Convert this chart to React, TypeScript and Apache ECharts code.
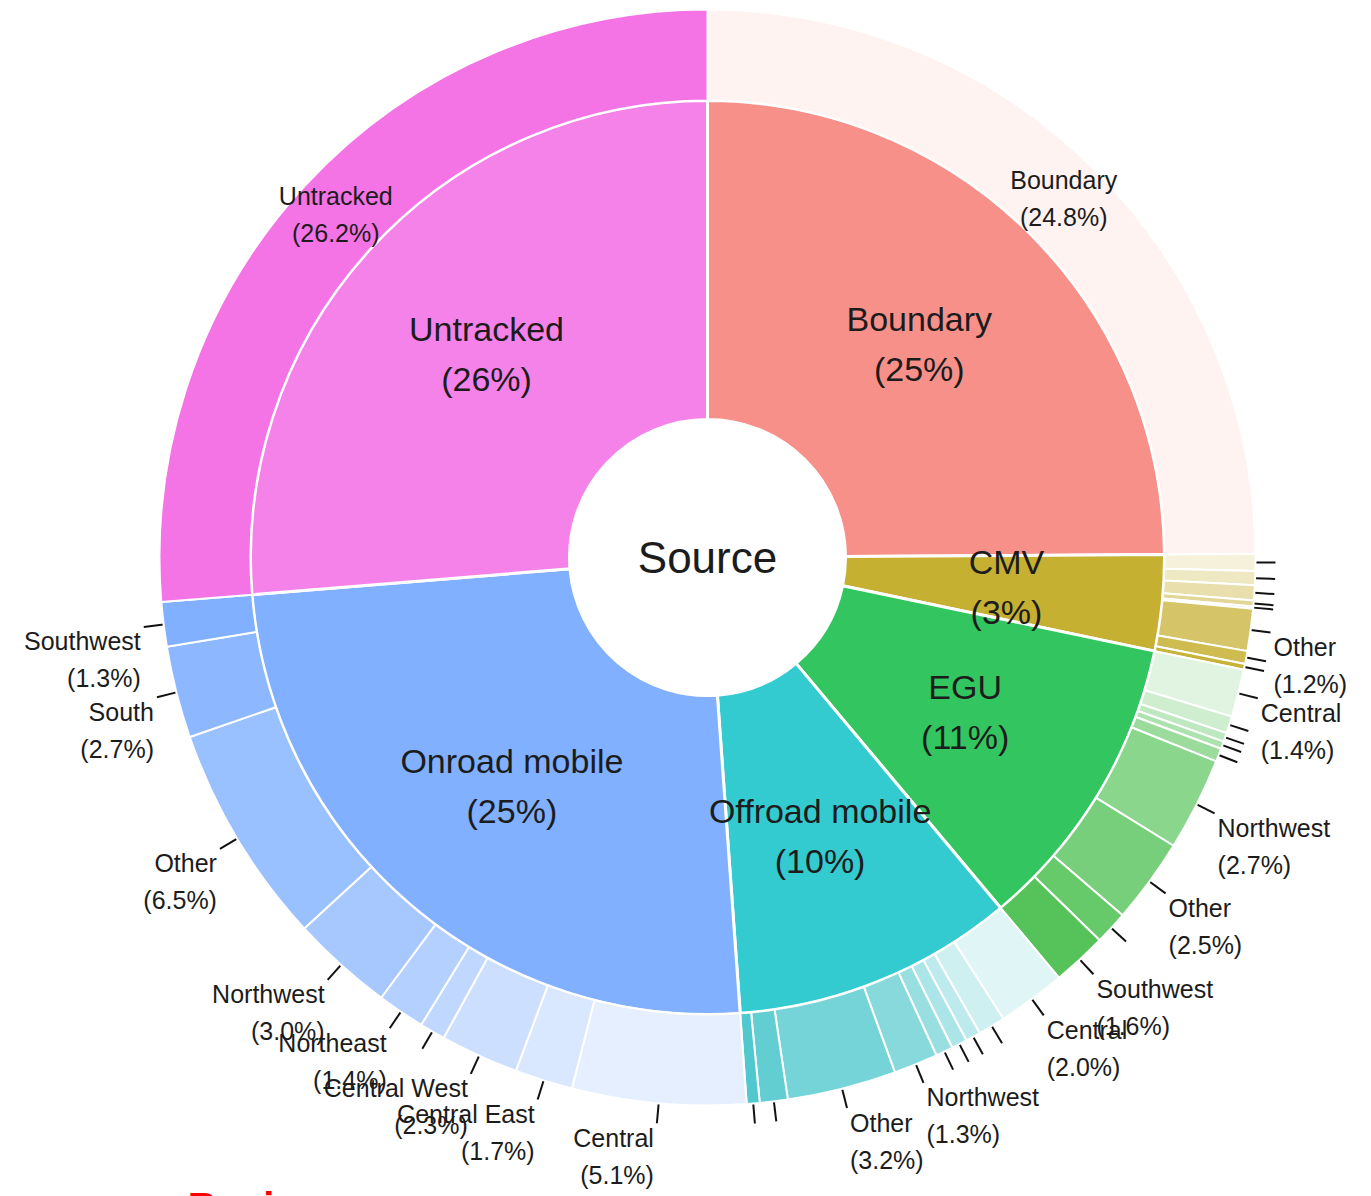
import React, { useEffect, useRef } from 'react';
import * as echarts from 'echarts';

// ---------------- data (percent of total) ----------------
const sources = ['Boundary', 'CMV', 'EGU', 'Offroad mobile', 'Onroad mobile', 'Untracked'];
const regions = ['Central', 'Central East', 'Central West', 'East', 'Northeast', 'Northwest', 'Other', 'South', 'Southwest'];

const boundaryValues = [24.8];
const cmvValues = [0.5, 0.41, 0.44, 0, 0.18, 0.06, 1.24, 0.38, 0.17];
const eguValues = [1.4, 0.5, 0.26, 0.22, 0.39, 2.74, 2.5, 0.98, 1.6];
const offroadValues = [2.0, 0.8, 0.44, 0.46, 0.51, 1.3, 3.2, 0.82, 0.38];
const onroadValues = [5.1, 1.7, 2.3, 0.75, 1.4, 3.0, 6.5, 2.7, 1.3];
const untrackedValues = [26.2];

const centerLabel = 'Source';
const footerText = '➔ Region';

// ---------------- styles ----------------
const FONT = "'Liberation Sans', Arial, Helvetica, sans-serif";
const TEXT = '#1c1c1c';
const CX = 707.5;
const CY = 557.5;
const R_HOLE = 138;
const R_MID = 457;
const R_OUT = 548;

const innerColors: Record<string, string> = {
  Boundary: '#f8908a',
  CMV: '#c6b032',
  EGU: '#33c660',
  'Offroad mobile': '#33cbd0',
  'Onroad mobile': '#80b0ff',
  Untracked: '#f582e8',
};
const singleOuterColors: Record<string, string> = {
  Boundary: '#fff3f1',
  Untracked: '#f473e5',
};
// outer ring: base colour, white-mix for the first child, white-mix for the last child
const outerGradients: Record<string, [string, number, number]> = {
  CMV: ['#c6b032', 0.82, 0.04],
  EGU: ['#4cc050', 0.83, 0.05],
  'Offroad mobile': ['#40c3c8', 0.84, 0.09],
  'Onroad mobile': ['#80b0ff', 0.8, 0.0],
};

function mixWhite(hex: string, f: number): string {
  const n = parseInt(hex.slice(1), 16);
  const r = (n >> 16) & 255, g = (n >> 8) & 255, b = n & 255;
  const m = (c: number) => Math.round(c + (255 - c) * f);
  return `rgb(${m(r)},${m(g)},${m(b)})`;
}

const childValues: Record<string, number[]> = {
  Boundary: boundaryValues,
  CMV: cmvValues,
  EGU: eguValues,
  'Offroad mobile': offroadValues,
  'Onroad mobile': onroadValues,
  Untracked: untrackedValues,
};

function buildData() {
  const inner: any[] = [];
  const outer: any[] = [];
  sources.forEach((src) => {
    const vals = childValues[src];
    const total = vals.reduce((a, b) => a + b, 0);
    inner.push({ name: src, value: total, itemStyle: { color: innerColors[src] } });
    if (vals.length === 1) {
      outer.push({
        name: src,
        value: vals[0],
        single: true,
        itemStyle: { color: singleOuterColors[src] },
        label: { position: 'inside' },
        labelLine: { show: false },
      });
    } else {
      const [base, fFirst, fLast] = outerGradients[src];
      const kids = regions
        .map((reg, i) => ({ reg, v: vals[i] }))
        .filter((k) => k.v > 0);
      const nK = kids.length;
      kids.forEach((k, j) => {
        const f = fFirst - ((fFirst - fLast) * j) / (nK - 1);
        outer.push({
          name: k.reg,
          value: k.v,
          itemStyle: { color: mixWhite(base, f) },
        });
      });
    }
  });
  return { inner, outer };
}

export default function App() {
  const ref = useRef<HTMLDivElement>(null);
  useEffect(() => {
    if (!ref.current) return;
    const chart = echarts.init(ref.current, undefined, { renderer: 'svg' });
    const { inner, outer } = buildData();
    chart.setOption({
      animation: false,
      backgroundColor: '#ffffff',
      series: [
        {
          type: 'pie',
          center: [CX, CY],
          radius: [R_HOLE, R_MID],
          startAngle: 90,
          clockwise: true,
          avoidLabelOverlap: false,
          labelLayout: { hideOverlap: false },
          silent: true,
          itemStyle: { borderColor: '#ffffff', borderWidth: 3 },
          label: {
            show: true,
            position: 'inside',
            fontFamily: FONT,
            fontSize: 34,
            lineHeight: 50,
            color: TEXT,
            formatter: (p: any) => `${p.name}\n(${Math.round(p.value)}%)`,
          },
          labelLine: { show: false },
          data: inner,
        },
        {
          type: 'pie',
          center: [CX, CY],
          radius: [R_MID, R_OUT],
          startAngle: 90,
          clockwise: true,
          avoidLabelOverlap: false,
          labelLayout: { hideOverlap: false },
          silent: true,
          itemStyle: { borderColor: '#ffffff', borderWidth: 2 },
          label: {
            show: true,
            position: 'outside',
            fontFamily: FONT,
            fontSize: 25,
            lineHeight: 37,
            color: TEXT,
            distanceToLabelLine: 3,
            rich: {
              s: { fontFamily: FONT, fontSize: 10, lineHeight: 66 },
              n: { fontFamily: FONT, fontSize: 25, lineHeight: 37, color: TEXT },
            },
            formatter: (p: any) => {
              if (p.data && p.data.single) {
                return `${p.name}\n(${Number(p.value).toFixed(1)}%)`;
              }
              // a blank spacer line on top so that the text hangs below the tick end
              return p.value >= 1.1
                ? `{s| }\n{n|${p.name}}\n{n|(${Number(p.value).toFixed(1)}%)}`
                : '';
            },
          },
          labelLine: {
            show: true,
            length: 20,
            length2: 0,
            lineStyle: { color: '#111111', width: 2 },
          },
          data: outer,
        },
      ],
      graphic: [
        {
          type: 'text',
          x: CX,
          y: CY,
          style: {
            text: centerLabel,
            fontFamily: FONT,
            fontSize: 44,
            fill: TEXT,
            align: 'center',
            verticalAlign: 'middle',
            textAlign: 'center',
            textVerticalAlign: 'middle',
          },
        },
        {
          type: 'text',
          x: 143,
          y: 1187,
          style: {
            text: footerText,
            fontFamily: "'Liberation Sans', 'DejaVu Sans', sans-serif",
            fontSize: 40,
            fontWeight: 'bold',
            fill: '#ff0000',
            align: 'left',
            verticalAlign: 'top',
            textAlign: 'left',
            textVerticalAlign: 'top',
          },
        },
      ],
    });
    return () => chart.dispose();
  }, []);
  return (
    <div
      ref={ref}
      style={{ position: 'absolute', left: 0, top: 0, width: 1371, height: 1196, background: '#fff' }}
    />
  );
}
